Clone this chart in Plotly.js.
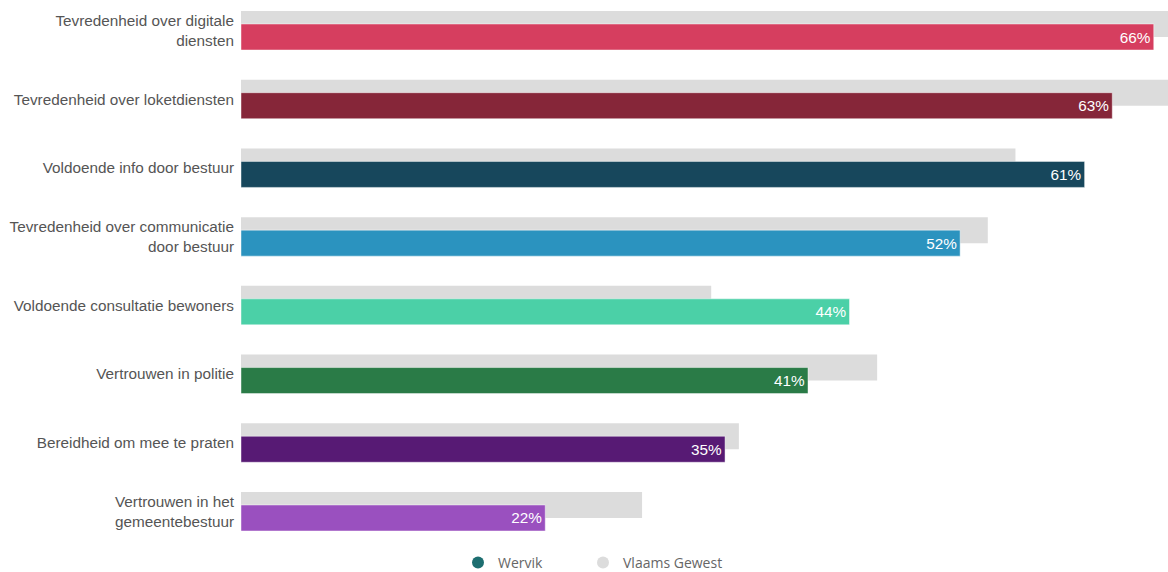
<!DOCTYPE html>
<html>
<head>
<meta charset="utf-8">
<script src="https://cdn.plot.ly/plotly-3.0.1.min.js"></script>
<style>html,body{margin:0;padding:0;background:#fff;}#chart{width:1168px;height:572px;}</style>
</head>
<body>
<div id="chart"></div>
<script>
const categories = [
  "Tevredenheid over digitale<br>diensten",
  "Tevredenheid over loketdiensten",
  "Voldoende info door bestuur",
  "Tevredenheid over communicatie<br>door bestuur",
  "Voldoende consultatie bewoners",
  "Vertrouwen in politie",
  "Bereidheid om mee te praten",
  "Vertrouwen in het<br>gemeentebestuur"
];
const wervik = [66, 63, 61, 52, 44, 41, 35, 22];
const vlaamsGewest = [69, 68, 56, 54, 34, 46, 36, 29];
const barColors = ["#d63e5f", "#862639", "#17475c", "#2b93bf", "#4bd0a7", "#2a7b47", "#571a74", "#9a50bf"];
const seriesNames = ["Wervik", "Vlaams Gewest"];
const legendColors = ["#1d6e70", "#dcdcdc"];

const pos = categories.map((c, i) => i);
const unit = 68.71;
const barW = 26 / unit;

const traces = [
  {
    type: "bar", orientation: "h",
    y: pos, x: vlaamsGewest,
    width: barW, offset: -19.5 / unit,
    marker: {color: "#dcdcdc"},
    hoverinfo: "skip", showlegend: false
  },
  {
    type: "bar", orientation: "h",
    y: pos, x: wervik,
    width: barW, offset: -6.5 / unit,
    marker: {color: barColors, line: {color: "rgba(255,255,255,0.45)", width: 1}},
    text: wervik.map(v => v + "%"),
    textposition: "inside", insidetextanchor: "end",
    textfont: {color: "#ffffff", size: 15.3, family: "Liberation Sans, Arial, sans-serif"},
    constraintext: "none",
    hoverinfo: "skip", showlegend: false
  },
  {
    type: "scatter", mode: "markers", x: [null], y: [null], legend: "legend",
    name: seriesNames[0], marker: {color: legendColors[0], size: 11, symbol: "circle"}
  },
  {
    type: "scatter", mode: "markers", x: [null], y: [null], legend: "legend2",
    name: seriesNames[1], marker: {color: legendColors[1], size: 11, symbol: "circle"}
  }
];

const legendFont = {family: "Open Sans, Noto Sans, sans-serif", size: 14, color: "#666666"};

const layout = {
  width: 1168, height: 572,
  margin: {l: 241, r: 0, t: 0, b: 27},
  paper_bgcolor: "#fff", plot_bgcolor: "#fff",
  barmode: "overlay",
  xaxis: {range: [0, 67.03], showgrid: false, zeroline: false, showticklabels: false, showline: false, ticks: "", fixedrange: true},
  yaxis: {
    range: [(545 - 30.5) / unit, -30.5 / unit],
    tickmode: "array", tickvals: pos, ticktext: categories,
    showgrid: false, zeroline: false, showline: false, ticks: "",
    ticklabelstandoff: 6, automargin: false,
    tickfont: {family: "Liberation Sans, Arial, sans-serif", size: 15.3, color: "#555555"}
  },
  showlegend: true,
  legend: {
    orientation: "h", xref: "container", yref: "container",
    x: 458 / 1168, xanchor: "left", y: 9 / 572, yanchor: "middle",
    font: legendFont, itemsizing: "constant"
  },
  legend2: {
    orientation: "h", xref: "container", yref: "container",
    x: 583 / 1168, xanchor: "left", y: 9 / 572, yanchor: "middle",
    font: legendFont, itemsizing: "constant"
  }
};

Plotly.newPlot("chart", traces, layout, {displayModeBar: false, staticPlot: true});
</script>
</body>
</html>
